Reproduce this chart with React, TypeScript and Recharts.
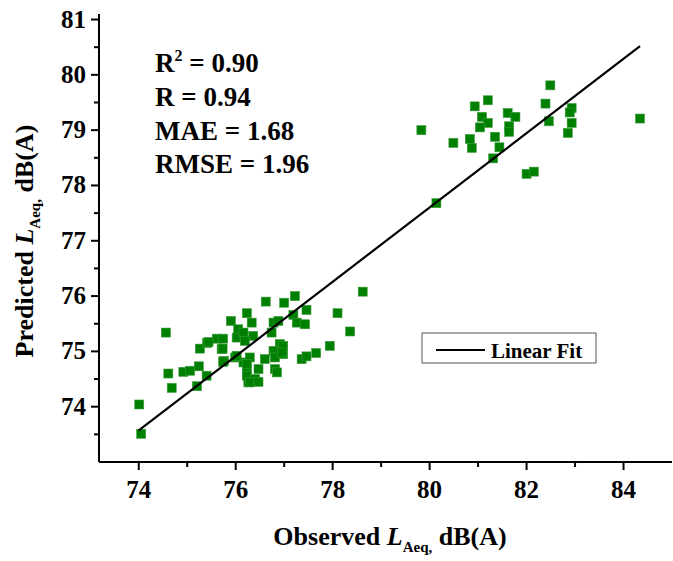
import { ScatterChart, Scatter, XAxis, YAxis } from 'recharts'

// observed vs predicted LAeq, dB(A)
const observed = [
  79.83, 80.49, 80.83, 80.87, 80.93, 81.2, 81.08, 81.2, 81.04, 81.35, 81.44, 81.31, 81.61, 81.77,
  81.64, 81.64, 82.0, 82.15, 80.14, 82.49, 82.39, 82.46, 82.93, 82.89, 82.93, 82.85, 84.34,
  74.01, 74.05, 74.56, 74.61, 74.68, 74.92, 75.06, 75.2, 75.24, 75.26, 75.41, 75.4, 75.61, 75.74,
  75.71, 75.76, 75.9, 76.05, 76.02, 76.16, 76.23, 75.99, 76.16, 76.23, 76.26,
  76.62, 77.0, 77.22, 76.33, 76.78, 76.88, 76.74, 77.19, 77.26, 77.46, 77.43, 76.36, 76.19, 76.91,
  76.78, 76.98, 76.81, 76.6, 76.29, 76.23, 76.47, 76.81, 76.85, 76.23, 76.4, 76.29, 76.47, 77.36,
  77.46, 77.66, 77.94, 78.36, 78.1, 78.62, 76.98, 76.95, 75.44, 75.73, 75.74, 76.02,
]
const predicted = [
  79.0, 78.77, 78.84, 78.68, 79.43, 79.54, 79.24, 79.13, 79.05, 78.88, 78.69, 78.49, 79.31, 79.24,
  79.07, 78.97, 78.21, 78.25, 77.68, 79.81, 79.48, 79.16, 79.4, 79.32, 79.13, 78.95, 79.21,
  74.04, 73.51, 75.34, 74.6, 74.34, 74.63, 74.65, 74.37, 74.73, 75.05, 75.15, 74.56, 75.23, 75.23,
  75.04, 74.83, 75.55, 75.4, 75.25, 75.34, 75.69, 74.89, 74.8, 74.68, 74.44,
  75.9, 75.88, 76.0, 75.52, 75.52, 75.55, 75.34, 75.66, 75.52, 75.75, 75.49, 75.28, 75.19, 75.13,
  75.01, 74.95, 74.89, 74.86, 74.89, 74.77, 74.68, 74.68, 74.62, 74.56, 74.5, 74.44, 74.45, 74.86,
  74.91, 74.97, 75.1, 75.36, 75.69, 76.08, 75.1, 74.98, 75.17, 75.05, 74.81, 74.92,
]

// linear fit end points
const fitX = [74.0, 84.34]
const fitY = [73.57, 80.52]

const xTicks = [74, 75, 76, 77, 78, 79, 80, 81, 82, 83, 84]
const yTicks = [73.5, 74, 74.5, 75, 75.5, 76, 76.5, 77, 77.5, 78, 78.5, 79, 79.5, 80, 80.5, 81]

const stats = ['R = 0.94', 'MAE = 1.68', 'RMSE = 1.96']
const r2Value = '0.90'

const points = observed.map((x, i) => ({ x, y: predicted[i] }))
const fitData = fitX.map((x, i) => ({ x, y: fitY[i] }))

const font = '"Liberation Serif", "Times New Roman", serif'

const XTick = (props: any) => {
  const { x, y, payload } = props
  const major = payload.value % 2 === 0
  return (
    <g>
      <line x1={x} x2={x} y1={y} y2={y + (major ? 8 : 5)} stroke="#000" strokeWidth={2} />
      {major && (
        <text x={x} y={y + 36} textAnchor="middle" fontFamily={font} fontWeight="bold" fontSize={25} fill="#000">
          {payload.value}
        </text>
      )}
    </g>
  )
}

const YTick = (props: any) => {
  const { x, y, payload } = props
  const major = Number.isInteger(payload.value)
  return (
    <g>
      <line x1={x} x2={x - (major ? 8 : 5)} y1={y} y2={y} stroke="#000" strokeWidth={2} />
      {major && (
        <text x={x - 13} y={y + 8} textAnchor="end" fontFamily={font} fontWeight="bold" fontSize={25} fill="#000">
          {payload.value}
        </text>
      )}
    </g>
  )
}

const Square = (props: any) => {
  const { cx, cy } = props
  return <rect x={cx - 4.5} y={cy - 4.5} width={9} height={9} fill="#008000" stroke="#3a9a3a" strokeWidth={0.6} />
}

export default function App() {
  return (
    <div style={{ position: 'absolute', left: 0, top: 0, width: 673, height: 561, background: '#fff' }}>
      <ScatterChart width={673} height={561} margin={{ top: 14, right: 1, bottom: 0, left: 0 }}>
        <XAxis
          type="number"
          dataKey="x"
          domain={[73.18, 85]}
          ticks={xTicks}
          interval={0}
          allowDataOverflow
          tick={<XTick />}
          tickLine={false}
          tickSize={0}
          tickMargin={0}
          height={99}
          axisLine={{ stroke: '#000', strokeWidth: 2 }}
        />
        <YAxis
          type="number"
          dataKey="y"
          domain={[73, 81.1]}
          ticks={yTicks}
          interval={0}
          allowDataOverflow
          tick={<YTick />}
          tickLine={false}
          tickSize={0}
          tickMargin={0}
          width={99}
          axisLine={{ stroke: '#000', strokeWidth: 2 }}
        />
        <Scatter data={points} fill="#008000" shape={<Square />} isAnimationActive={false} />
        <Scatter
          data={fitData}
          line={{ stroke: '#000', strokeWidth: 2.2 }}
          shape={() => <g />}
          isAnimationActive={false}
        />

        {/* statistics */}
        <text x={155} y={72} fontFamily={font} fontWeight="bold" fontSize={27} fill="#000">
          R<tspan dy={-11} fontSize={16}>2</tspan>
          <tspan dy={11}>{' = ' + r2Value}</tspan>
        </text>
        {stats.map((s, i) => (
          <text key={s} x={155} y={106 + i * 33.5} fontFamily={font} fontWeight="bold" fontSize={27} fill="#000">
            {s}
          </text>
        ))}

        {/* legend */}
        <rect x={422} y={333} width={174} height={30} fill="#fff" stroke="#555" strokeWidth={1} />
        <line x1={436} x2={485} y1={350} y2={350} stroke="#000" strokeWidth={2} />
        <text x={491} y={358} fontFamily={font} fontWeight="bold" fontSize={21} fill="#000">
          Linear Fit
        </text>

        {/* axis titles */}
        <text x={390} y={545} textAnchor="middle" fontFamily={font} fontWeight="bold" fontSize={26} fill="#000">
          Observed <tspan fontStyle="italic">L</tspan>
          <tspan fontSize={15} dy={7}>Aeq,</tspan>
          <tspan dy={-7}> dB(A)</tspan>
        </text>
        <text
          transform="translate(33,241) rotate(-90)"
          textAnchor="middle"
          fontFamily={font}
          fontWeight="bold"
          fontSize={26}
          fill="#000"
        >
          Predicted <tspan fontStyle="italic">L</tspan>
          <tspan fontSize={15} dy={7}>Aeq,</tspan>
          <tspan dy={-7}> dB(A)</tspan>
        </text>
      </ScatterChart>
    </div>
  )
}
